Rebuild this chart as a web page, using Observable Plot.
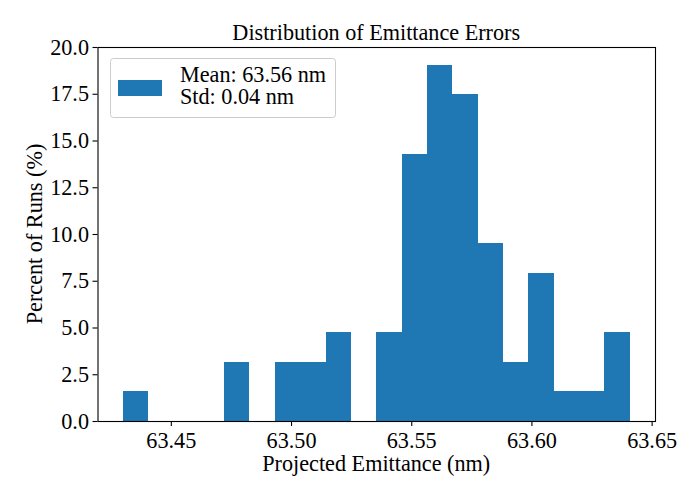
<!DOCTYPE html>
<html>
<head>
<meta charset="utf-8">
<script src="https://cdn.jsdelivr.net/npm/d3@7"></script>
<script src="https://cdn.jsdelivr.net/npm/@observablehq/plot@0.6"></script>
<style>
  body { margin: 0; background: white; }
  #chart { width: 700px; height: 500px; }
</style>
</head>
<body>
<div id="chart"></div>
<script>
// Histogram data (20 bins)
const binStart = 63.4300;
const binWidth = 0.010545;
const percents = [1.59, 0, 0, 0, 3.17, 0, 3.17, 3.17, 4.76, 0, 4.76, 14.29, 19.05, 17.46, 9.52, 3.17, 7.94, 1.59, 1.59, 4.76];
const xTicks = [63.45, 63.50, 63.55, 63.60, 63.65];
const yTicks = [0, 2.5, 5, 7.5, 10, 12.5, 15, 17.5, 20];
const titleText = "Distribution of Emittance Errors";
const xLabel = "Projected Emittance (nm)";
const yLabel = "Percent of Runs (%)";
const legendLines = ["Mean: 63.56 nm", "Std: 0.04 nm"];

const bins = percents.map((p, i) => ({x1: binStart + i * binWidth, x2: binStart + (i + 1) * binWidth, y: p}));
const color = "#1f77b4";
const font = "'Liberation Serif', 'DejaVu Serif', serif";
const fs = 22.2;

const plot = Plot.plot({
  width: 700,
  height: 500,
  marginLeft: 97.5,
  marginRight: 45,
  marginTop: 47,
  marginBottom: 79,
  style: {fontFamily: font, fontSize: fs + "px", color: "black", background: "white"},
  x: {domain: [63.4195, 63.6514]},
  y: {domain: [0, 20]},
  marks: [
    Plot.rectY(bins.filter(d => d.y > 0), {x1: "x1", x2: "x2", y: "y", fill: color, inset: 0, shapeRendering: "crispEdges"}),
    Plot.frame({stroke: "black", strokeWidth: 1.1}),
    Plot.axisX({ticks: xTicks, tickFormat: d3.format(".2f"), tickSize: 5, tickPadding: 6, label: null, fontSize: fs, strokeWidth: 1.1}),
    Plot.axisY({ticks: yTicks, tickFormat: d3.format(".1f"), tickSize: 5, tickPadding: 4, label: null, fontSize: fs, strokeWidth: 1.1})
  ]
});

document.getElementById("chart").appendChild(plot);

const svg = d3.select(plot);
const g = svg.append("g").attr("font-family", font).attr("font-size", fs).attr("fill", "black").attr("text-anchor", "middle");
// Title
g.append("text").attr("x", 376.25).attr("y", 40).text(titleText);
// X label
g.append("text").attr("x", 376.25).attr("y", 471).text(xLabel);
// Y label
g.append("text").attr("transform", "translate(41.5,234) rotate(-90)").text(yLabel);

// Legend
const lg = svg.append("g").attr("font-family", font).attr("font-size", fs).attr("text-anchor", "start");
lg.append("rect").attr("x", 110.5).attr("y", 58.5).attr("width", 225).attr("height", 59)
  .attr("rx", 3).attr("fill", "white").attr("fill-opacity", 0.8).attr("stroke", "#cccccc");
lg.append("rect").attr("x", 118).attr("y", 80).attr("width", 44).attr("height", 16).attr("fill", color);
legendLines.forEach((t, i) => {
  lg.append("text").attr("x", 180).attr("y", 81.7 + i * 22.6).text(t).attr("fill", "black");
});
</script>
</body>
</html>
